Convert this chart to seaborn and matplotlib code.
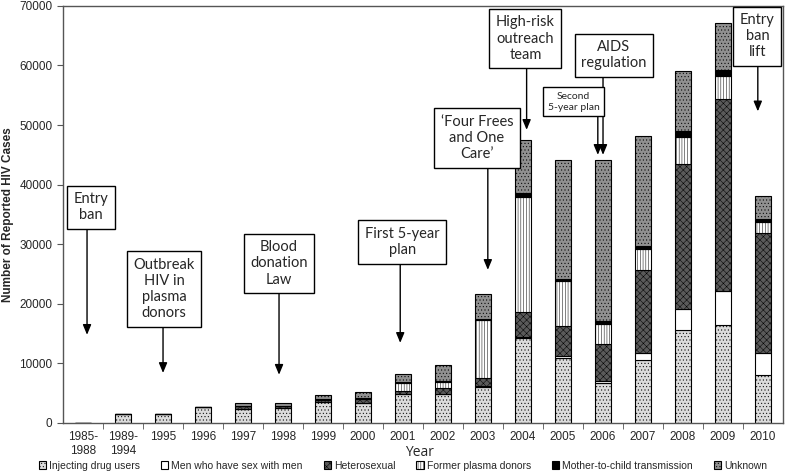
import pandas as pd
import matplotlib
matplotlib.use("Agg")
import matplotlib.pyplot as plt
import seaborn as sns

# Data
years = ["1985-\n1988", "1989-\n1994", "1995", "1996", "1997", "1998", "1999",
         "2000", "2001", "2002", "2003", "2004", "2005", "2006", "2007", "2008",
         "2009", "2010"]
idu = [60, 1460, 1510, 2630, 2400, 2460, 3470, 3360, 4820, 4870, 6100, 14340,
       10870, 6670, 10590, 15630, 16470, 8070]
msm = [0, 0, 0, 0, 0, 0, 0, 0, 0, 0, 50, 100, 390, 390, 1120, 3530, 5600, 3750]
hetero = [0, 0, 0, 0, 500, 450, 400, 670, 560, 1060, 1350, 4160, 5100, 6220,
          14000, 24370, 32330, 20060]
plasma = [0, 0, 0, 0, 0, 0, 100, 100, 1390, 1020, 9800, 19270, 7390, 3360,
          3480, 4480, 3800, 1780]
mtct = [0, 0, 0, 0, 0, 0, 0, 0, 50, 60, 100, 730, 450, 450, 450, 950, 960, 570]
unknown = [0, 0, 0, 0, 450, 390, 680, 1080, 1420, 2740, 4330, 8960, 19880,
           26990, 18470, 10090, 8010, 3800]

series_names = ["Injecting drug users", "Men who have sex with men",
                "Heterosexual", "Former plasma donors",
                "Mother-to-child transmission", "Unknown"]

# Events: (text, arrow category index, arrow tip value, box centre offset, box y, font size)
events = [
    ("Entry\nban", 0.1, 14800, 0.1, 36200, 10.5),
    ("Outbreak\nHIV in\nplasma\ndonors", 2.0, 8400, 0.03, 22500, 10.5),
    ("Blood\ndonation\nLaw", 4.9, 8100, 0.0, 26800, 10.5),
    ("First 5-year\nplan", 7.93, 13450, 0.05, 30400, 10.5),
    ("\u2018Four Frees\nand One\nCare\u2019", 10.12, 25700, -0.27, 47800, 10.5),
    ("High-risk\noutreach\nteam", 11.09, 49200, -0.03, 64500, 10.5),
    ("Second\n5-year plan", 12.87, 45000, -0.61, 53900, 7.5),
    ("AIDS\nregulation", 13.0, 45000, 0.27, 61700, 10.5),
    ("Entry\nban\nlift", 16.87, 52300, -0.01, 64900, 10.5),
]

df = pd.DataFrame({"Year": years, "idu": idu, "msm": msm, "hetero": hetero,
                   "plasma": plasma, "mtct": mtct, "unknown": unknown})

sns.set_style("ticks")
plt.rcParams["font.family"] = ["Liberation Sans", "DejaVu Sans"]
plt.rcParams["hatch.linewidth"] = 0.35

fig = plt.figure(figsize=(7.86, 4.74), dpi=100)
ax = fig.add_axes([0.0802, 0.1076, 0.916, 0.880])

styles = [
    ("idu", "#dcdcdc", "....."),
    ("msm", "white", None),
    ("hetero", "#5a5a5a", "xxxxx"),
    ("plasma", "white", "||||||"),
    ("mtct", "black", None),
    ("unknown", "#909090", "....."),
]

bottom = pd.Series(0, index=df.index, dtype=float)
for (col, color, hatch), name in zip(styles, series_names):
    sns.barplot(data=df, x="Year", y=col, bottom=bottom.values, color=color,
                hatch=hatch, edgecolor="black", linewidth=0.8, width=0.4,
                saturation=1, label=name, ax=ax)
    bottom += df[col]

ax.set_ylim(0, 70000)
ax.set_xlim(-0.5, len(years) - 0.5)
ax.set_yticks(range(0, 70001, 10000))
ax.tick_params(axis="y", labelsize=8.5, length=4, color="#555555")
ax.tick_params(axis="x", which="major", length=0, labelsize=8.5, pad=6)
ax.set_xticks([i + 0.5 for i in range(len(years) - 1)], minor=True)
ax.tick_params(axis="x", which="minor", length=4, color="#555555")
for s in ax.spines.values():
    s.set_color("#555555")
    s.set_linewidth(1)

ax.set_xlabel("Year", fontsize=10, family=["Open Sans", "DejaVu Sans"])
ax.xaxis.set_label_coords(0.495, -0.052)
ax.set_ylabel("Number of Reported HIV Cases", fontsize=8.5, fontweight="bold")
ax.yaxis.set_label_coords(-0.068, 0.5)

# Event boxes with arrows
box_font = ["Lato", "DejaVu Sans"]
for text, xa, tip, dx, ybox, fs in events:
    t = ax.text(xa + dx, ybox, text, ha="center", va="center", fontsize=fs,
                family=box_font, linespacing=1.2,
                bbox=dict(boxstyle="square,pad=0.45", fc="white", ec="black", lw=1),
                zorder=5)
    fig.canvas.draw()
    bb = t.get_bbox_patch().get_window_extent().transformed(ax.transData.inverted())
    ax.annotate("", xy=(xa, tip), xytext=(xa, bb.y0),
                arrowprops=dict(arrowstyle="-|>,head_length=0.6,head_width=0.25",
                                color="black", lw=1, shrinkA=0, shrinkB=0),
                zorder=4)

ax.legend(loc="center", bbox_to_anchor=(0.472, -0.102), ncol=6,
          frameon=False, fontsize=7.5, handlelength=0.7, handleheight=0.7,
          handletextpad=0.3, columnspacing=2.0, borderaxespad=0)

fig.savefig("out.png", dpi=100)
